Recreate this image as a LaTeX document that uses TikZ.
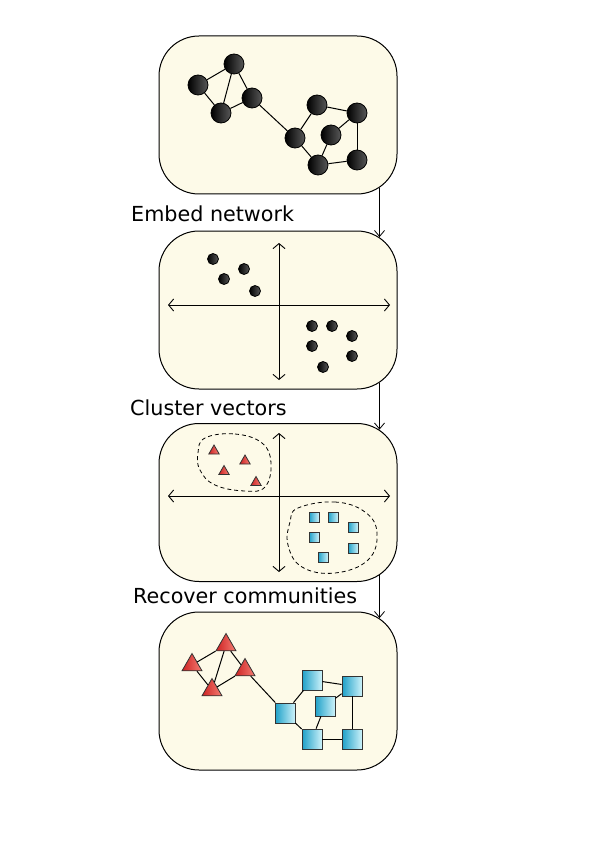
\documentclass[tikz,border=0pt]{standalone}
\usepackage{fontspec}
\setmainfont{DejaVu Sans}
\usepackage{xcolor}
\usepackage{tikz}
\usetikzlibrary{shapes.geometric,arrows.meta}

\definecolor{panelfill}{RGB}{253,250,232}
\definecolor{redleft}{RGB}{205,35,35}
\definecolor{redright}{RGB}{245,125,115}
\definecolor{cyanleft}{RGB}{30,160,200}
\definecolor{cyanright}{RGB}{205,242,250}

\tikzset{
  panel/.style={draw=black, line width=1pt, fill=panelfill, rounded corners=40pt,
    minimum width=238pt, minimum height=158pt, inner sep=0pt},
  ball/.style={circle, draw=black, line width=0.8pt, left color=black, right color=black!65,
    minimum size=20pt, inner sep=0pt},
  dot/.style={ball, minimum size=11pt},
  tri/.style={regular polygon, regular polygon sides=3, draw=black!80, line width=0.8pt,
    left color=redleft, right color=redright, minimum size=23pt, inner sep=0pt},
  smalltri/.style={tri, minimum size=12pt},
  sq/.style={rectangle, draw=black!80, line width=0.8pt, left color=cyanleft,
    right color=cyanright, minimum size=20pt, inner sep=0pt},
  smallsq/.style={sq, minimum size=10pt},
  link/.style={line width=1pt},
  axis/.style={line width=0.9pt,
    {Straight Barb[length=5pt,width=12pt]}-{Straight Barb[length=5pt,width=12pt]}},
  flow/.style={line width=0.8pt, -{Straight Barb[length=6pt,width=10pt]}},
  steplabel/.style={font=\fontsize{20.7}{24}\selectfont, anchor=base west, inner sep=0pt},
  blob/.style={dashed, line width=0.8pt, dash pattern=on 4pt off 3pt}
}

\begin{document}
\begin{tikzpicture}[x=1pt, y=-1pt]
    \useasboundingbox (0,0) rectangle (596,842);

    % Panels
    \node[panel] (network) at (278,115) {};
    \node[panel] (embedding) at (278,310) {};
    \node[panel] (clusters) at (278,502.5) {};
    \node[panel] (communities) at (278,691) {};

    % Step labels
    \node[steplabel] (embedlbl) at (131,222) {Embed network};
    \node[steplabel] (clusterlbl) at (130,415) {Cluster vectors};
    \node[steplabel] (recoverlbl) at (133,603) {Recover communities};

    % Flow between panels
    \draw[flow] ([xshift=-18pt,yshift=6.6pt]network.south east) -- ([xshift=-18pt,yshift=-6.6pt]embedding.north east);
    \draw[flow] ([xshift=-18pt,yshift=6.6pt]embedding.south east) -- ([xshift=-18pt,yshift=-6.6pt]clusters.north east);
    \draw[flow] ([xshift=-18pt,yshift=6.6pt]clusters.south east) -- ([xshift=-18pt,yshift=-6.6pt]communities.north east);

    % Network
    \foreach \name/\pos in {u1/{(198,85)}, u2/{(234,64)}, u3/{(221,113)}, u4/{(252,98)},
        u5/{(295,138)}, u6/{(317,105)}, u7/{(357,113)}, u8/{(331,135)}, u9/{(318,165)}, u10/{(357,160)}}
        \node[ball] (\name) at \pos {};
    \foreach \u/\v in {u1/u2, u1/u3, u2/u3, u2/u4, u3/u4, u4/u5, u5/u6, u5/u9,
        u6/u7, u7/u8, u8/u9, u9/u10, u7/u10}
        \draw[link] (\u) -- (\v);

    % Embedding
    \draw[axis] (279,243) -- (279,380);
    \draw[axis] (168,305) -- (390,305);
    \foreach \name/\pos in {p1/{(213,259)}, p2/{(244,269)}, p3/{(224,279)}, p4/{(255,291)},
        p5/{(312,326)}, p6/{(332,326)}, p7/{(352,336)}, p8/{(312,346)}, p9/{(352,356)}, p10/{(323,367)}}
        \node[dot] (\name) at \pos {};

    % Clusters
    \draw[axis] (279,433) -- (279,572);
    \draw[axis] (168,496) -- (390,496);
    \draw[blob] plot[smooth cycle, tension=0.7] coordinates {(205,438) (235,434) (262,443)
        (271,463) (265,487) (245,491) (215,485) (200,470) (198,453)};
    \draw[blob] plot[smooth cycle, tension=0.7] coordinates {(298,508) (335,502) (365,512)
        (377,533) (368,560) (335,573) (302,567) (288,545) (290,522)};
    \foreach \name/\pos in {c1/{(214,451)}, c2/{(245,461)}, c3/{(224,471.5)}, c4/{(256,482.5)}}
        \node[smalltri] (\name) at \pos {};
    \foreach \name/\pos in {c5/{(314,517)}, c6/{(333,517)}, c7/{(353,527)}, c8/{(314,537)},
        c9/{(353,548)}, c10/{(323,557)}}
        \node[smallsq] (\name) at \pos {};

    % Communities
    \foreach \name/\pos in {r1/{(192,665)}, r2/{(226,645)}, r3/{(212,690)}, r4/{(245,670)}}
        \node[tri] (\name) at \pos {};
    \foreach \name/\pos in {r5/{(285,713)}, r6/{(312,680)}, r7/{(352,686)}, r8/{(325,706)},
        r9/{(312,739)}, r10/{(352,739)}}
        \node[sq] (\name) at \pos {};
    \foreach \u/\v in {r1/r2, r1/r3, r2/r3, r2/r4, r3/r4, r4/r5, r5/r6, r5/r9,
        r6/r7, r7/r8, r8/r9, r9/r10, r7/r10}
        \draw[link] (\u) -- (\v);
\end{tikzpicture}
\end{document}
